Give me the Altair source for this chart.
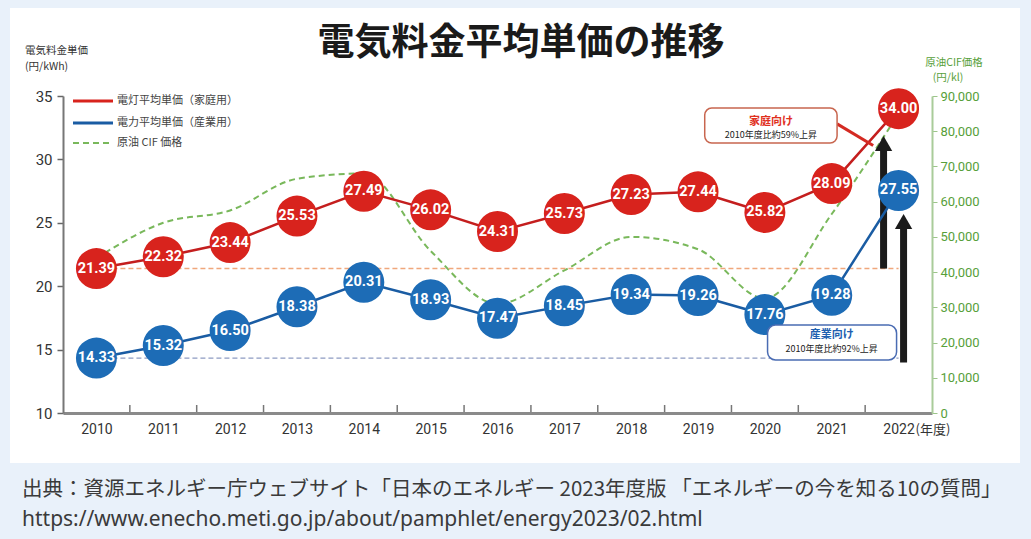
import altair as alt
import pandas as pd

# ---------------- data ----------------
years = list(range(2010, 2023))
home = [21.39, 22.32, 23.44, 25.53, 27.49, 26.02, 24.31, 25.73, 27.23, 27.44, 25.82, 28.09, 34.00]
industry = [14.33, 15.32, 16.50, 18.38, 20.31, 18.93, 17.47, 18.45, 19.34, 19.26, 17.76, 19.28, 27.55]
crude_oil = [44000, 54000, 57500, 66500, 68000, 46000, 31000, 40500, 50000, 46500, 32500, 56500, 85000]

left_ticks = [10, 15, 20, 25, 30, 35]
right_ticks = [0, 10000, 20000, 30000, 40000, 50000, 60000, 70000, 80000, 90000]

title_text = "電気料金平均単価の推移"
left_title = ["電気料金単価", "(円/kWh)"]
right_title = ["原油CIF価格", "(円/kl)"]
legend_labels = ["電灯平均単価（家庭用）", "電力平均単価（産業用）", "原油 CIF 価格"]
home_note = ["家庭向け", "2010年度比約59%上昇"]
ind_note = ["産業向け", "2010年度比約92%上昇"]
year_unit = "(年度)"
source_lines = [
    "出典：資源エネルギー庁ウェブサイト「日本のエネルギー 2023年度版 「エネルギーの今を知る10の質問」",
    "https://www.enecho.meti.go.jp/about/pamphlet/energy2023/02.html",
]

# annotation anchors (data coordinates)
home_box = {"x1": 2019.10, "x2": 2021.08, "y1": 31.29, "y2": 34.05, "tx": 2020.09, "ty1": 32.95, "ty2": 31.95}
ind_box = {"x1": 2020.04, "x2": 2021.97, "y1": 14.18, "y2": 16.94, "tx": 2021.0, "ty1": 16.15, "ty2": 15.05}
home_pointer = {"x1": 2021.08, "x2": 2021.62, "y1": 32.80, "y2": 31.10}

# ---------------- styles ----------------
W, H = 869, 317
JP = "Noto Sans CJK JP"
NUM = "Roboto"
RED = "#d8231d"
RED_LINE = "#c41e1e"
BLUE = "#1d6cb6"
BLUE_LINE = "#1a5ca3"
GREEN = "#79b85b"
GREEN_TXT = "#57a03a"
ORANGE = "#f0a77c"
GREYBLUE = "#8d9bc2"
BLACK = "#1b1b1b"

df = pd.DataFrame({"year": years, "home": home, "industry": industry, "oil": crude_oil})
one = pd.DataFrame({"k": [0]})

xs = alt.Scale(domain=[years[0] - 0.5, years[-1] + 0.5], nice=False, zero=False)
ys = alt.Scale(domain=[left_ticks[0], left_ticks[-1]], nice=False, zero=False)
yr = alt.Scale(domain=[right_ticks[0], right_ticks[-1]], nice=False, zero=False)

x_axis = alt.Axis(values=years, format="d", tickSize=0, labelFontSize=14, labelColor="#333333",
                  labelFont=NUM, labelPadding=9, domainColor="#8a8a8a", domainWidth=3,
                  title=None, grid=False, zindex=1)
y_axis = alt.Axis(values=left_ticks, orient="left", tickSize=6, tickColor="#666666", tickWidth=1.5,
                  labelFontSize=15, labelColor="#333333", labelFont=NUM, labelPadding=5,
                  domainColor="#777777", domainWidth=2, title=None, grid=False, zindex=1)
r_axis = alt.Axis(values=right_ticks, orient="right", format=",d", tickSize=5, tickColor="#9cc58a",
                  labelFontSize=13, labelColor=GREEN_TXT, labelFont=NUM, labelPadding=3,
                  domainColor="#a9cc9a", domainWidth=2, title=None, grid=False, zindex=1)


def X(field):
    return alt.X(field, type="quantitative", scale=xs, axis=x_axis)


def Y(field):
    return alt.Y(field, type="quantitative", scale=ys, axis=y_axis)


# ---------------- background panel + green (right axis) ----------------
panel = alt.Chart(one).mark_rect(color="#ffffff").encode(
    x=alt.value(-53), x2=alt.value(957), y=alt.value(-88), y2=alt.value(367)
)
oil_line = alt.Chart(df).mark_line(
    color=GREEN, strokeDash=[6, 4], strokeWidth=2, interpolate="monotone"
).encode(x=X("year"), y=alt.Y("oil:Q", scale=yr, axis=r_axis))
green_group = alt.layer(panel, oil_line)

# ---------------- left axis group ----------------
bounds = pd.DataFrame({"b": [y + 0.5 for y in years[:-1]]})
xticks = alt.Chart(bounds).mark_rule(color="#777777", strokeWidth=1.5).encode(
    x=X("b"), y=alt.value(H), y2=alt.value(H - 8)
)

ref = pd.DataFrame({"x1": [years[0]], "x2": [years[-1]], "h": [home[0]], "i": [industry[0]]})
ref_home = alt.Chart(ref).mark_rule(color=ORANGE, strokeDash=[5, 3], strokeWidth=1.6).encode(
    x=X("x1"), x2="x2", y=Y("h")
)
ref_ind = alt.Chart(ref).mark_rule(color=GREYBLUE, strokeDash=[5, 3], strokeWidth=1.4).encode(
    x=X("x1"), x2="x2", y=Y("i")
)

head_gap_h, head_gap_i = 2.75, 2.45
arrows = pd.DataFrame({
    "x": [years[-1]],
    "h0": [home[0]], "h1": [home[-1] - head_gap_h],
    "i0": [industry[0] - 0.35], "i1": [industry[-1] - head_gap_i],
})
arrow_h = alt.Chart(arrows).mark_rule(color=BLACK, strokeWidth=7, xOffset=-15).encode(
    x=X("x"), y=Y("h0"), y2="h1"
)
arrow_h_head = alt.Chart(arrows).mark_point(shape="triangle-up", filled=True, size=300, opacity=1,
                                            color=BLACK, xOffset=-15).encode(x=X("x"), y=Y("h1"))
arrow_i = alt.Chart(arrows).mark_rule(color=BLACK, strokeWidth=7, xOffset=5).encode(
    x=X("x"), y=Y("i0"), y2="i1"
)
arrow_i_head = alt.Chart(arrows).mark_point(shape="triangle-up", filled=True, size=300, opacity=1,
                                            color=BLACK, xOffset=5).encode(x=X("x"), y=Y("i1"))

base = alt.Chart(df)
home_line = base.mark_line(color=RED_LINE, strokeWidth=2.5).encode(x=X("year"), y=Y("home"))
ind_line = base.mark_line(color=BLUE_LINE, strokeWidth=2.5).encode(x=X("year"), y=Y("industry"))
home_dots = base.mark_circle(color=RED, size=1680, opacity=1).encode(x=X("year"), y=Y("home"))
ind_dots = base.mark_circle(color=BLUE, size=1680, opacity=1).encode(x=X("year"), y=Y("industry"))
home_txt = base.mark_text(color="white", font=NUM, fontWeight="bold", fontSize=14.5).encode(
    x=X("year"), y=Y("home"), text=alt.Text("home:Q", format=".2f"))
ind_txt = base.mark_text(color="white", font=NUM, fontWeight="bold", fontSize=14.5).encode(
    x=X("year"), y=Y("industry"), text=alt.Text("industry:Q", format=".2f"))

# annotation boxes
hb = pd.DataFrame([home_box])
ib = pd.DataFrame([ind_box])
hp = pd.DataFrame([home_pointer])
home_ptr = alt.Chart(hp).mark_rule(color="#d42a22", strokeWidth=3).encode(
    x=X("x1"), x2="x2", y=Y("y1"), y2="y2")
home_rect = alt.Chart(hb).mark_rect(fill="#ffffff", stroke="#c8664f", strokeWidth=1.5, cornerRadius=7).encode(
    x=X("x1"), x2="x2", y=Y("y1"), y2="y2")
home_t1 = alt.Chart(hb).mark_text(text=home_note[0], color="#e0301e", font=JP, fontWeight="bold",
                                  fontSize=11).encode(x=X("tx"), y=Y("ty1"))
home_t2 = alt.Chart(hb).mark_text(text=home_note[1], color="#222222", font=JP, fontSize=9).encode(
    x=X("tx"), y=Y("ty2"))
ind_rect = alt.Chart(ib).mark_rect(fill="#ffffff", stroke="#4a6cb3", strokeWidth=1.5, cornerRadius=8).encode(
    x=X("x1"), x2="x2", y=Y("y1"), y2="y2")
ind_t1 = alt.Chart(ib).mark_text(text=ind_note[0], color="#2060b0", font=JP, fontWeight="bold",
                                 fontSize=11).encode(x=X("tx"), y=Y("ty1"))
ind_t2 = alt.Chart(ib).mark_text(text=ind_note[1], color="#222222", font=JP, fontSize=9).encode(
    x=X("tx"), y=Y("ty2"))

# year unit after the last label
unit = pd.DataFrame({"x": [years[-1]]})
unit_txt = alt.Chart(unit).mark_text(text=year_unit, font=JP, fontSize=13, color="#333333",
                                     align="left", baseline="middle", dx=17).encode(
    x=X("x"), y=alt.value(H + 17))

# ---------------- text overlays ----------------
def label(text, x, y, size, color="#333333", align="left", weight="normal", font=JP):
    return alt.Chart(one).mark_text(text=text, font=font, fontSize=size, color=color, align=align,
                                    baseline="middle", fontWeight=weight).encode(
        x=alt.value(x), y=alt.value(y))


title = label(title_text, 458, -52, 37, color="#1a1a1a", align="center", weight="bold")
lt1 = label(left_title[0], -38, -45, 10.5)
lt2 = label(left_title[1], -38, -29, 10.5)
rt1 = label(right_title[0], 891, -33, 10.5, color=GREEN_TXT, align="center")
rt2 = label(right_title[1], 885, -18, 10.5, color=GREEN_TXT, align="center")

leg_colors = [RED, BLUE_LINE]
leg_y = [5, 27, 47]
leg = []
for c, yy in zip(leg_colors, leg_y[:2]):
    leg.append(alt.Chart(one).mark_rule(color=c, strokeWidth=3).encode(
        x=alt.value(10), x2=alt.value(50), y=alt.value(yy)))
leg.append(alt.Chart(one).mark_rule(color=GREEN, strokeWidth=2, strokeDash=[6, 4]).encode(
    x=alt.value(10), x2=alt.value(50), y=alt.value(leg_y[2])))
for t, yy in zip(legend_labels, leg_y):
    leg.append(label(t, 54, yy, 11, color="#444444"))

src1 = label(source_lines[0], -41, 394, 20.5, color="#3a3a3a")
src2 = label(source_lines[1], -41, 424, 21, color="#3a3a3a", font="Noto Sans")

left_group = alt.layer(
    xticks, ref_home, ref_ind, arrow_h, arrow_h_head, arrow_i, arrow_i_head,
    home_line, ind_line, home_dots, ind_dots, home_txt, ind_txt,
    home_ptr, home_rect, home_t1, home_t2, ind_rect, ind_t1, ind_t2, unit_txt,
    title, lt1, lt2, rt1, rt2, *leg, src1, src2,
)

chart = alt.layer(green_group, left_group).resolve_scale(y="independent").properties(
    width=W, height=H,
    autosize=alt.AutoSizeParams(type="none"),
    padding={"left": 63, "top": 96, "right": 99, "bottom": 126},
).configure_view(stroke=None).configure(background="#e9f1fa")

chart.save("out.html", embed_options={"renderer": "svg", "actions": False})
